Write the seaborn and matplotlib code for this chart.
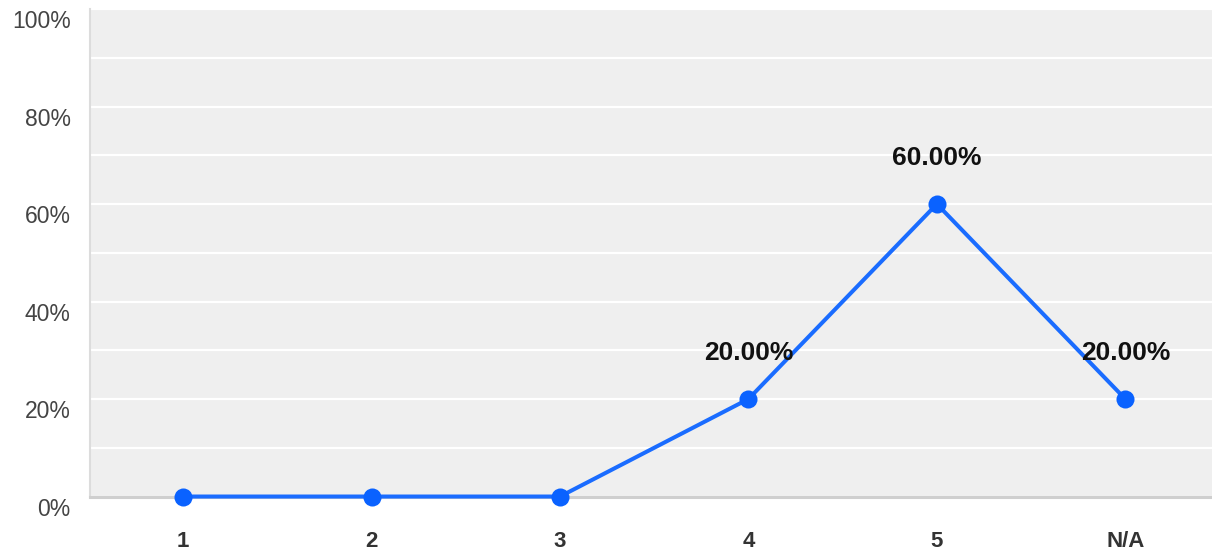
import matplotlib
matplotlib.use("Agg")
import matplotlib.pyplot as plt
import matplotlib.transforms as mtransforms
from matplotlib.ticker import MultipleLocator, FixedLocator
import seaborn as sns

categories = ["1", "2", "3", "4", "5", "N/A"]
percent_values = [0, 0, 0, 20, 60, 20]
value_labels = ["", "", "", "20.00%", "60.00%", "20.00%"]
y_ticks = [0, 20, 40, 60, 80, 100]
y_tick_labels = ["0%", "20%", "40%", "60%", "80%", "100%"]

sns.set_theme(style="white")
plt.rcParams["font.family"] = ["Liberation Sans", "DejaVu Sans"]

fig = plt.figure(figsize=(12.12, 5.52), dpi=100)
ax = fig.add_axes([0.0743, 0.1005, 0.9257, 0.8832])
ax.set_facecolor("#efefef")

line_color = "#1a6cff"
sns.lineplot(x=categories, y=percent_values, sort=False, ax=ax,
             color=line_color, linewidth=2.9, marker="o", markersize=13,
             markeredgewidth=0, markerfacecolor="#0a62ff", clip_on=False,
             zorder=5)

ax.set_xlim(-0.494, 5.46)
ax.set_ylim(0, 100)

# horizontal grid every 10%
ax.yaxis.set_minor_locator(MultipleLocator(10))
ax.yaxis.set_major_locator(FixedLocator(y_ticks))
ax.grid(axis="y", which="both", color="white", linewidth=1.6)
ax.grid(axis="x", visible=False)
ax.set_axisbelow(True)

ax.set_yticklabels(y_tick_labels, fontsize=16.5, color="#444444")
ax.set_xticks(range(len(categories)))
ax.set_xticklabels(categories, fontsize=16, fontweight="bold", color="#333333")
ax.tick_params(axis="y", which="both", length=0, pad=14)
ax.tick_params(axis="x", length=0, pad=25)

# y labels sit slightly below their gridlines
shift = mtransforms.ScaledTranslation(0, -0.10, fig.dpi_scale_trans)
for lbl in ax.get_yticklabels():
    lbl.set_transform(lbl.get_transform() + shift)

for side in ("top", "right"):
    ax.spines[side].set_visible(False)
ax.spines["left"].set_color("#dcdcdc")
ax.spines["left"].set_linewidth(1.5)
ax.spines["bottom"].set_color("#cfcfcf")
ax.spines["bottom"].set_linewidth(2.2)

ax.set_xlabel("")
ax.set_ylabel("")

for i, (v, txt) in enumerate(zip(percent_values, value_labels)):
    if txt:
        ax.annotate(txt, (i, v), xytext=(0, 33), textcoords="offset points",
                    ha="center", va="center", fontsize=19, fontweight="bold",
                    color="#111111", zorder=6)

fig.savefig("out.png", dpi=100)
